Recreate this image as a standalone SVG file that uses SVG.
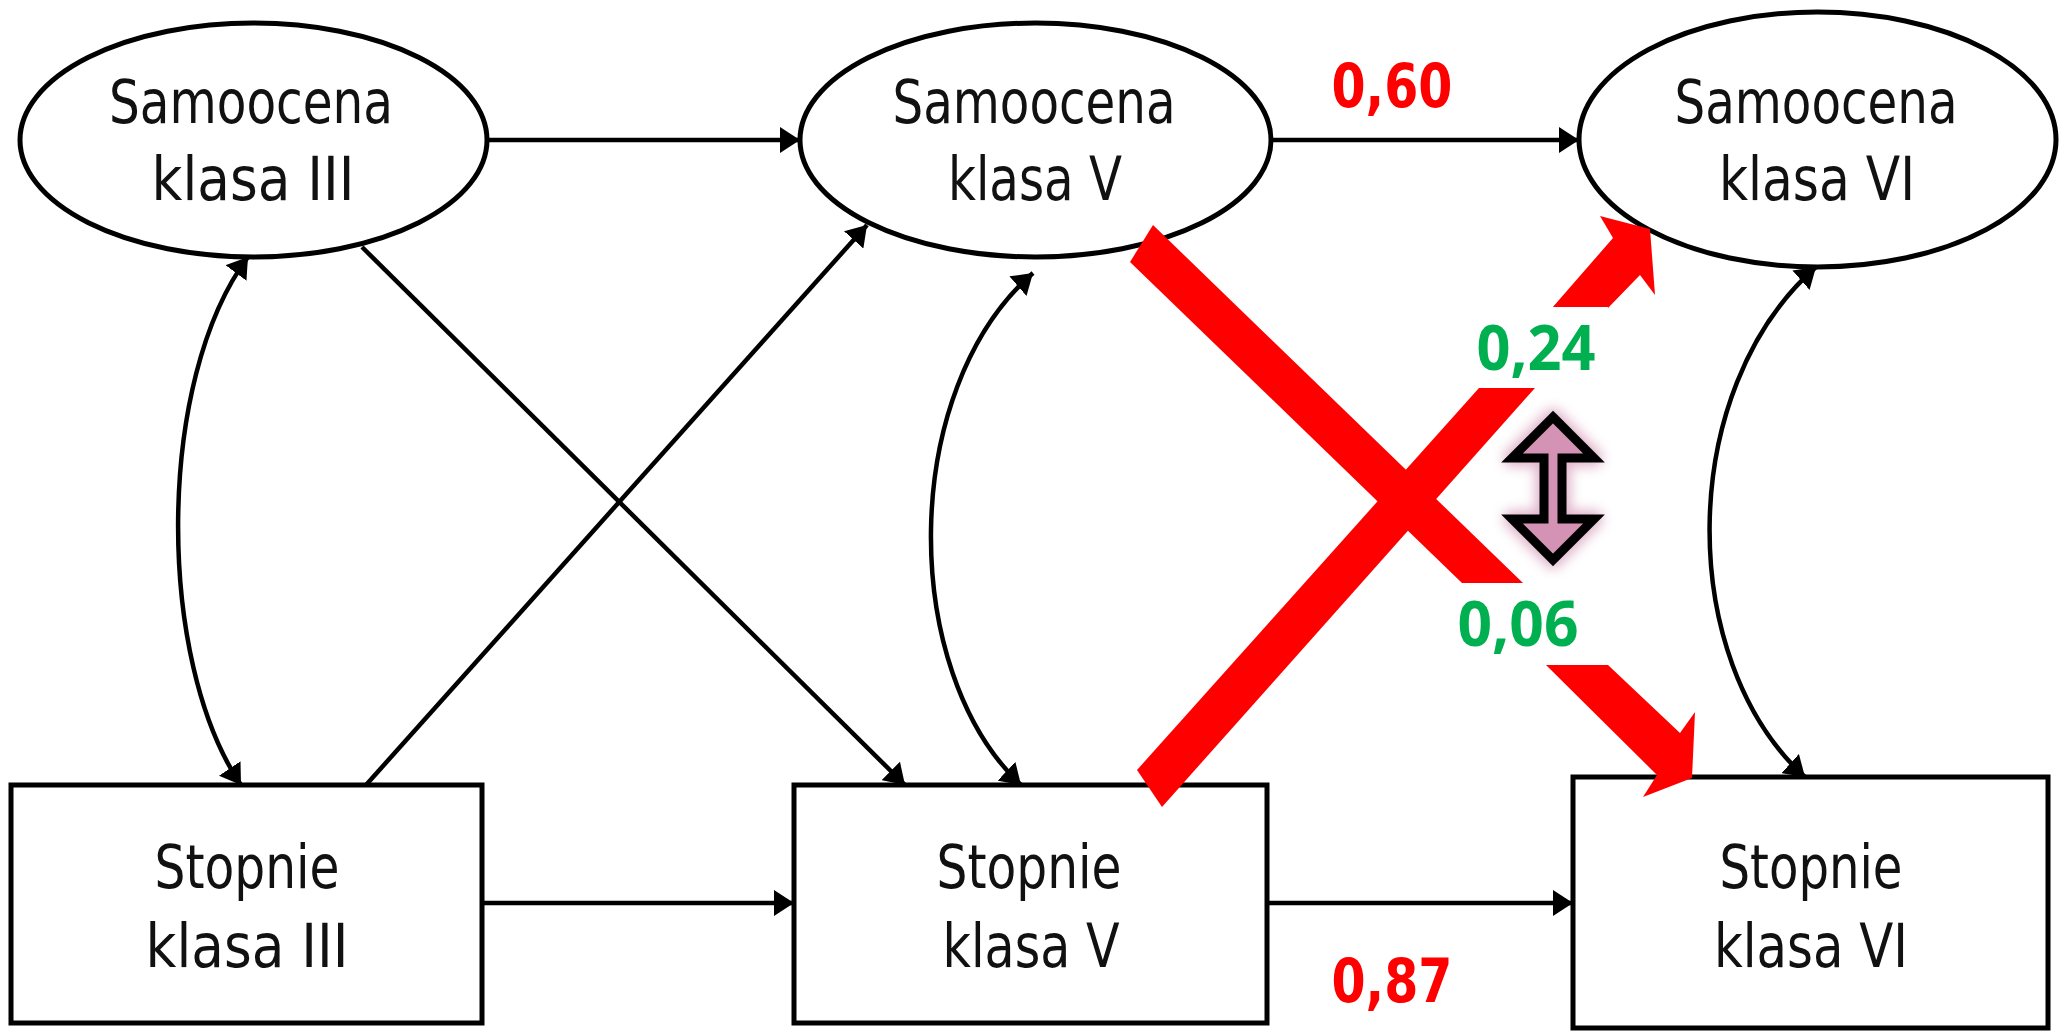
<svg xmlns="http://www.w3.org/2000/svg" width="2062" height="1031" viewBox="0 0 2062 1031">
<style>
.node{fill:#fff;stroke:#000;stroke-width:5}
.lbl{font-family:"DejaVu Sans",Verdana,sans-serif;font-size:60px;fill:#111;text-anchor:middle}
.conn{fill:none;stroke:#000;stroke-width:4.5}
.red{fill:#ff0000}
.rv{font-family:"DejaVu Sans",Verdana,sans-serif;font-weight:bold;font-size:60px;fill:#ff0000;text-anchor:middle}
.gv{font-family:"Noto Sans","Open Sans",sans-serif;font-weight:bold;font-size:62px;fill:#00b050;text-anchor:middle}
</style>
<defs>
<marker id="ah" markerUnits="userSpaceOnUse" markerWidth="20" markerHeight="26" refX="20" refY="13" orient="auto-start-reverse">
<path d="M0,0 L20,13 L0,26 z" fill="#000"/>
</marker>
<filter id="glow" x="-50%" y="-50%" width="200%" height="200%">
<feGaussianBlur stdDeviation="6"/>
</filter>
</defs>
<rect width="2062" height="1031" fill="#fff"/>

<g id="connectors">
<line class="conn" x1="487" y1="140" x2="800" y2="140" marker-end="url(#ah)"/>
<line class="conn" x1="1271" y1="140" x2="1579" y2="140" marker-end="url(#ah)"/>
<line class="conn" x1="482" y1="903" x2="794" y2="903" marker-end="url(#ah)"/>
<line class="conn" x1="1267" y1="903" x2="1573" y2="903" marker-end="url(#ah)"/>
<line class="conn" x1="362" y1="247" x2="905" y2="785" marker-end="url(#ah)"/>
<line class="conn" x1="366" y1="785" x2="867" y2="225" marker-end="url(#ah)"/>
<path class="conn" d="M248,257 C156,380 156,660 241,785" marker-start="url(#ah)" marker-end="url(#ah)"/>
<path class="conn" d="M1033,273 C899,390 899,670 1021,785" marker-start="url(#ah)" marker-end="url(#ah)"/>
<path class="conn" d="M1816,267 C1676,390 1676,660 1805,777" marker-start="url(#ah)" marker-end="url(#ah)"/>
</g>

<g id="n-samoocena-3">
<ellipse class="node" cx="253.5" cy="140" rx="233.5" ry="117"/>
<text class="lbl" x="251" y="123" textLength="284" lengthAdjust="spacingAndGlyphs">Samoocena</text>
<text class="lbl" x="253" y="200" textLength="203" lengthAdjust="spacingAndGlyphs">klasa III</text>
</g>
<g id="n-samoocena-5">
<ellipse class="node" cx="1035.5" cy="140" rx="235.5" ry="117"/>
<text class="lbl" x="1034" y="123" textLength="283" lengthAdjust="spacingAndGlyphs">Samoocena</text>
<text class="lbl" x="1035" y="200" textLength="174" lengthAdjust="spacingAndGlyphs">klasa V</text>
</g>
<g id="n-samoocena-6">
<ellipse class="node" cx="1817.5" cy="139.5" rx="238.5" ry="127.5"/>
<text class="lbl" x="1816" y="123" textLength="283" lengthAdjust="spacingAndGlyphs">Samoocena</text>
<text class="lbl" x="1817" y="200" textLength="196" lengthAdjust="spacingAndGlyphs">klasa VI</text>
</g>
<g id="n-stopnie-3">
<rect class="node" x="11" y="785" width="471" height="238"/>
<text class="lbl" x="247" y="888" textLength="185" lengthAdjust="spacingAndGlyphs">Stopnie</text>
<text class="lbl" x="247" y="967" textLength="203" lengthAdjust="spacingAndGlyphs">klasa III</text>
</g>
<g id="n-stopnie-5">
<rect class="node" x="794" y="785" width="473" height="238"/>
<text class="lbl" x="1029" y="888" textLength="185" lengthAdjust="spacingAndGlyphs">Stopnie</text>
<text class="lbl" x="1031" y="967" textLength="177" lengthAdjust="spacingAndGlyphs">klasa V</text>
</g>
<g id="n-stopnie-6">
<rect class="node" x="1573" y="777" width="475" height="251"/>
<text class="lbl" x="1811" y="888" textLength="183" lengthAdjust="spacingAndGlyphs">Stopnie</text>
<text class="lbl" x="1811" y="967" textLength="194" lengthAdjust="spacingAndGlyphs">klasa VI</text>
</g>

<g id="red-paths">
<polygon class="red" points="1153,225 1523,583 1462,583 1130,262"/>
<polygon class="red" points="1546,665 1608,665 1680,733 1695,712 1692,778 1643,797 1657,775"/>
<polygon class="red" points="1137,770 1479,388 1535,388 1162,807"/>
<polygon class="red" points="1552,308 1613,238 1600,216 1650,229 1655,295 1640,275 1608,308"/>
</g>

<g id="labels">
<text class="rv" x="1392" y="107" textLength="121" lengthAdjust="spacingAndGlyphs">0,60</text>
<text class="rv" x="1392" y="1002" textLength="121" lengthAdjust="spacingAndGlyphs">0,87</text>
<rect x="1466" y="307" width="142" height="81" fill="#fff"/>
<text class="gv" x="1536" y="370" textLength="119" lengthAdjust="spacingAndGlyphs">0,24</text>
<rect x="1454" y="585" width="169" height="79" fill="#fff"/>
<text class="gv" x="1518" y="646" textLength="121" lengthAdjust="spacingAndGlyphs">0,06</text>
</g>

<g id="icon-double-arrow">
<polygon points="1553,417 1594,458 1562,458 1562,519 1594,519 1553,560 1512,519 1544,519 1544,458 1512,458" fill="#c77aa0" stroke="#c77aa0" stroke-width="18" stroke-linejoin="round" opacity="0.55" filter="url(#glow)"/>
<polygon points="1553,417 1594,458 1562,458 1562,519 1594,519 1553,560 1512,519 1544,519 1544,458 1512,458" fill="#d493b5" stroke="#000" stroke-width="9" stroke-linejoin="miter"/>
</g>
</svg>
